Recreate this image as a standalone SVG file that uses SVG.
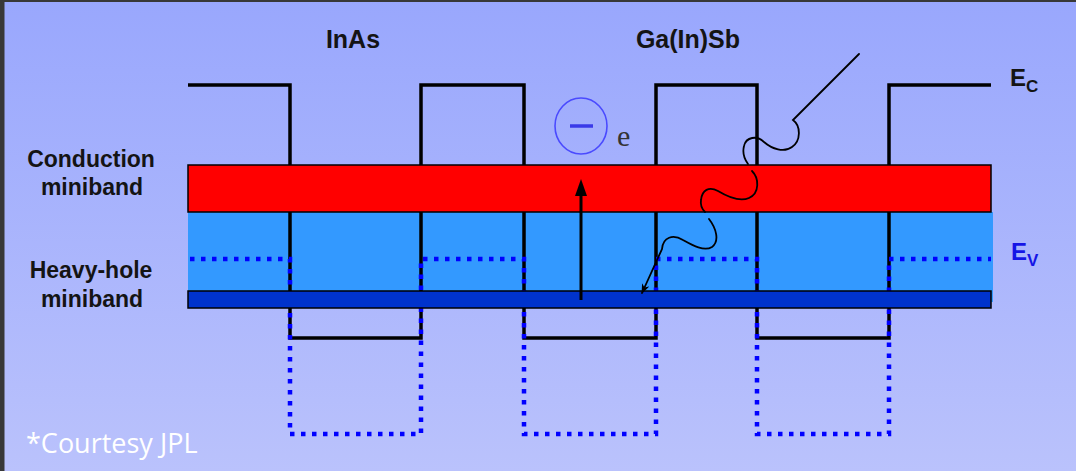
<svg xmlns="http://www.w3.org/2000/svg" width="1076" height="471" viewBox="0 0 1076 471">
<defs>
<linearGradient id="bg" x1="0" y1="0" x2="0" y2="1">
<stop offset="0" stop-color="#99a7fd"/>
<stop offset="1" stop-color="#bac2fc"/>
</linearGradient>
<marker id="ah" markerWidth="10" markerHeight="8" refX="9" refY="4" orient="auto" markerUnits="userSpaceOnUse">
<path d="M0,0 L10,4 L0,8 L3,4 Z" fill="#000"/>
</marker>
</defs>
<style>
.lbl{font-family:"Liberation Sans",Arial,sans-serif;font-weight:bold;fill:#141414}
.cb{fill:none;stroke:#000;stroke-width:3.5;stroke-linejoin:miter}
.vb{fill:none;stroke:#0000ff;stroke-width:4.5;stroke-dasharray:4.5 6.5}
.wave{fill:none;stroke:#000;stroke-width:1.8;stroke-linecap:round}
.band{stroke:#000;stroke-width:1.5}
</style>
<rect x="0" y="0" width="1076" height="471" fill="url(#bg)"/>
<rect x="0" y="0" width="1076" height="2" fill="#383838"/>
<rect x="0" y="0" width="4.5" height="471" fill="#383838"/>

<g id="valence-fill">
<rect x="188" y="212" width="805" height="90" fill="#3399ff"/>
</g>
<g id="conduction-edge">
<path class="cb" d="M188,85 H290 V338 H421 V85 H524 V338 H656 V85 H757 V338 H889 V85 H991"/>
</g>
<g id="valence-edge">
<path class="vb" d="M190,259 H290 V434 H421 V259 H524 V434 H656 V259 H757 V434 H889 V259 H991"/>
</g>
<g id="conduction-miniband">
<rect class="band" x="188" y="165" width="803" height="47" fill="#ff0000"/>
</g>
<g id="heavy-hole-miniband">
<rect class="band" x="188" y="291" width="803" height="17" fill="#0033cc"/>
</g>

<g id="connectors">
<line x1="581" y1="300" x2="581" y2="194" stroke="#000" stroke-width="3"/>
<polygon points="581,179 575,196 587,196" fill="#000"/>
<path class="wave" d="M859,54 L793,120 C801,126 801,141 792,147 C784,153 772,149 764,142 C757,135 746,137 744,146 C742,154 745,160 748,164"/>
<path class="wave" d="M752,171 C759,178 760,193 749,198 C740,202 728,197 718,191 C709,186 702,190 701,200 C700,206 703,210 705,212"/>
<path class="wave" d="M709,219 C716,228 720,241 712,247 C704,252 692,245 683,240 C673,234 663,237 662,249 L642,293" marker-end="url(#ah)"/>
</g>

<g id="electron">
<ellipse cx="581" cy="126" rx="26" ry="28" fill="none" stroke="#4a4aff" stroke-width="1.6"/>
<line x1="570" y1="126" x2="593" y2="126" stroke="#3a3ae8" stroke-width="3.5"/>
<text x="617" y="146" font-family="'Liberation Serif',serif" font-size="30" fill="#333">e</text>
</g>

<g id="labels">
<text class="lbl" x="353" y="48" font-size="25" text-anchor="middle">InAs</text>
<text class="lbl" x="688" y="48" font-size="25" text-anchor="middle">Ga(In)Sb</text>
<text class="lbl" x="91" y="167" font-size="23" text-anchor="middle">Conduction</text>
<text class="lbl" x="92" y="195" font-size="23" text-anchor="middle">miniband</text>
<text class="lbl" x="91" y="278" font-size="23" text-anchor="middle">Heavy-hole</text>
<text class="lbl" x="92" y="307" font-size="23" text-anchor="middle">miniband</text>
<text class="lbl" x="1010" y="86" font-size="24">E<tspan font-size="17" dy="6">C</tspan></text>
<text class="lbl" x="1011" y="260" font-size="24" style="fill:#1515e6">E<tspan font-size="17" dy="6">V</tspan></text>
<text x="26" y="453" font-family="'Open Sans',sans-serif" font-size="27" fill="#ffffff">*Courtesy JPL</text>
</g>
</svg>
